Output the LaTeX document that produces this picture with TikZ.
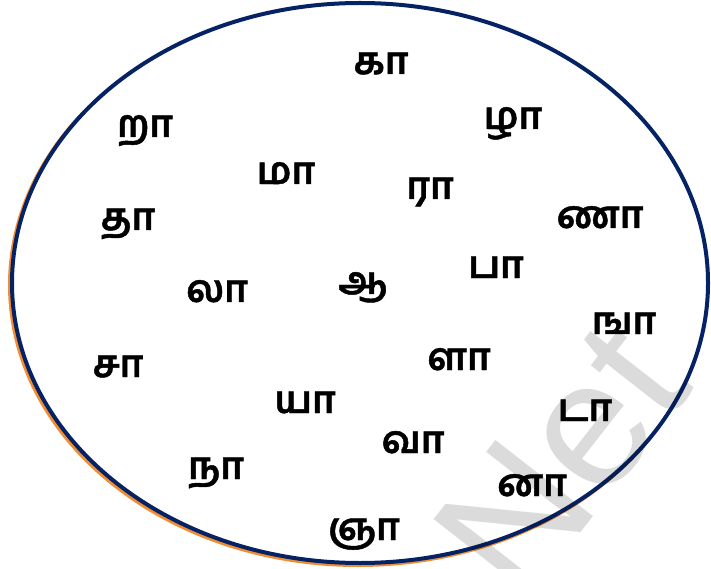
\documentclass[tikz,border=0pt]{standalone}
\usepackage{fontspec}
\newfontfamily\tamilfont[Script=Tamil,FakeBold=1.2]{Hind Madurai}
\newfontfamily\wmfont{Liberation Sans}
\definecolor{navy}{RGB}{5,35,100}
\definecolor{shadoworange}{RGB}{240,140,50}
\tikzset{
  letter/.style={font=\tamilfont\bfseries\fontsize{38}{40}\selectfont, anchor=base, inner sep=0pt, text=black},
  rim/.style={line width=4pt, draw=navy, fill=white},
  rimshadow/.style={line width=4pt, draw=shadoworange, fill=shadoworange},
  watermark/.style={font=\wmfont\fontsize{180}{180}\selectfont, text=black, opacity=0.14, rotate=52, inner sep=0pt}
}
\begin{document}
\begin{tikzpicture}[x=1pt,y=1pt]
\useasboundingbox (0,0) rectangle (711,568);
\draw[rimshadow] (358,283) ellipse [x radius=348, y radius=280];
\draw[rim] (360,285) ellipse [x radius=348, y radius=280];
\node[letter] (ka) at (381,494) {கா};
\node[letter] (zha) at (513,439) {ழா};
\node[letter] (rra) at (145,431) {றா};
\node[letter] (ma) at (286,384) {மா};
\node[letter] (ra) at (430,369) {ரா};
\node[letter] (tha) at (128,338) {தா};
\node[letter] (nna) at (600,340) {ணா};
\node[letter] (pa) at (496,290) {பா};
\node[letter] (la) at (217,266) {லா};
\node[letter] (aa) at (363,274) {ஆ};
\node[letter] (nga) at (624,234) {ஙா};
\node[letter] (sa) at (118,191) {சா};
\node[letter] (lla) at (459,198) {ளா};
\node[letter] (ya) at (305,155) {யா};
\node[letter] (tta) at (585,147) {டா};
\node[letter] (va) at (413,115) {வா};
\node[letter] (na) at (216,89) {நா};
\node[letter] (nnna) at (532,72) {னா};
\node[letter] (nya) at (364,28) {ஞா};
\node[watermark] (wm) at (561,108) {Net};
\end{tikzpicture}
\end{document}
